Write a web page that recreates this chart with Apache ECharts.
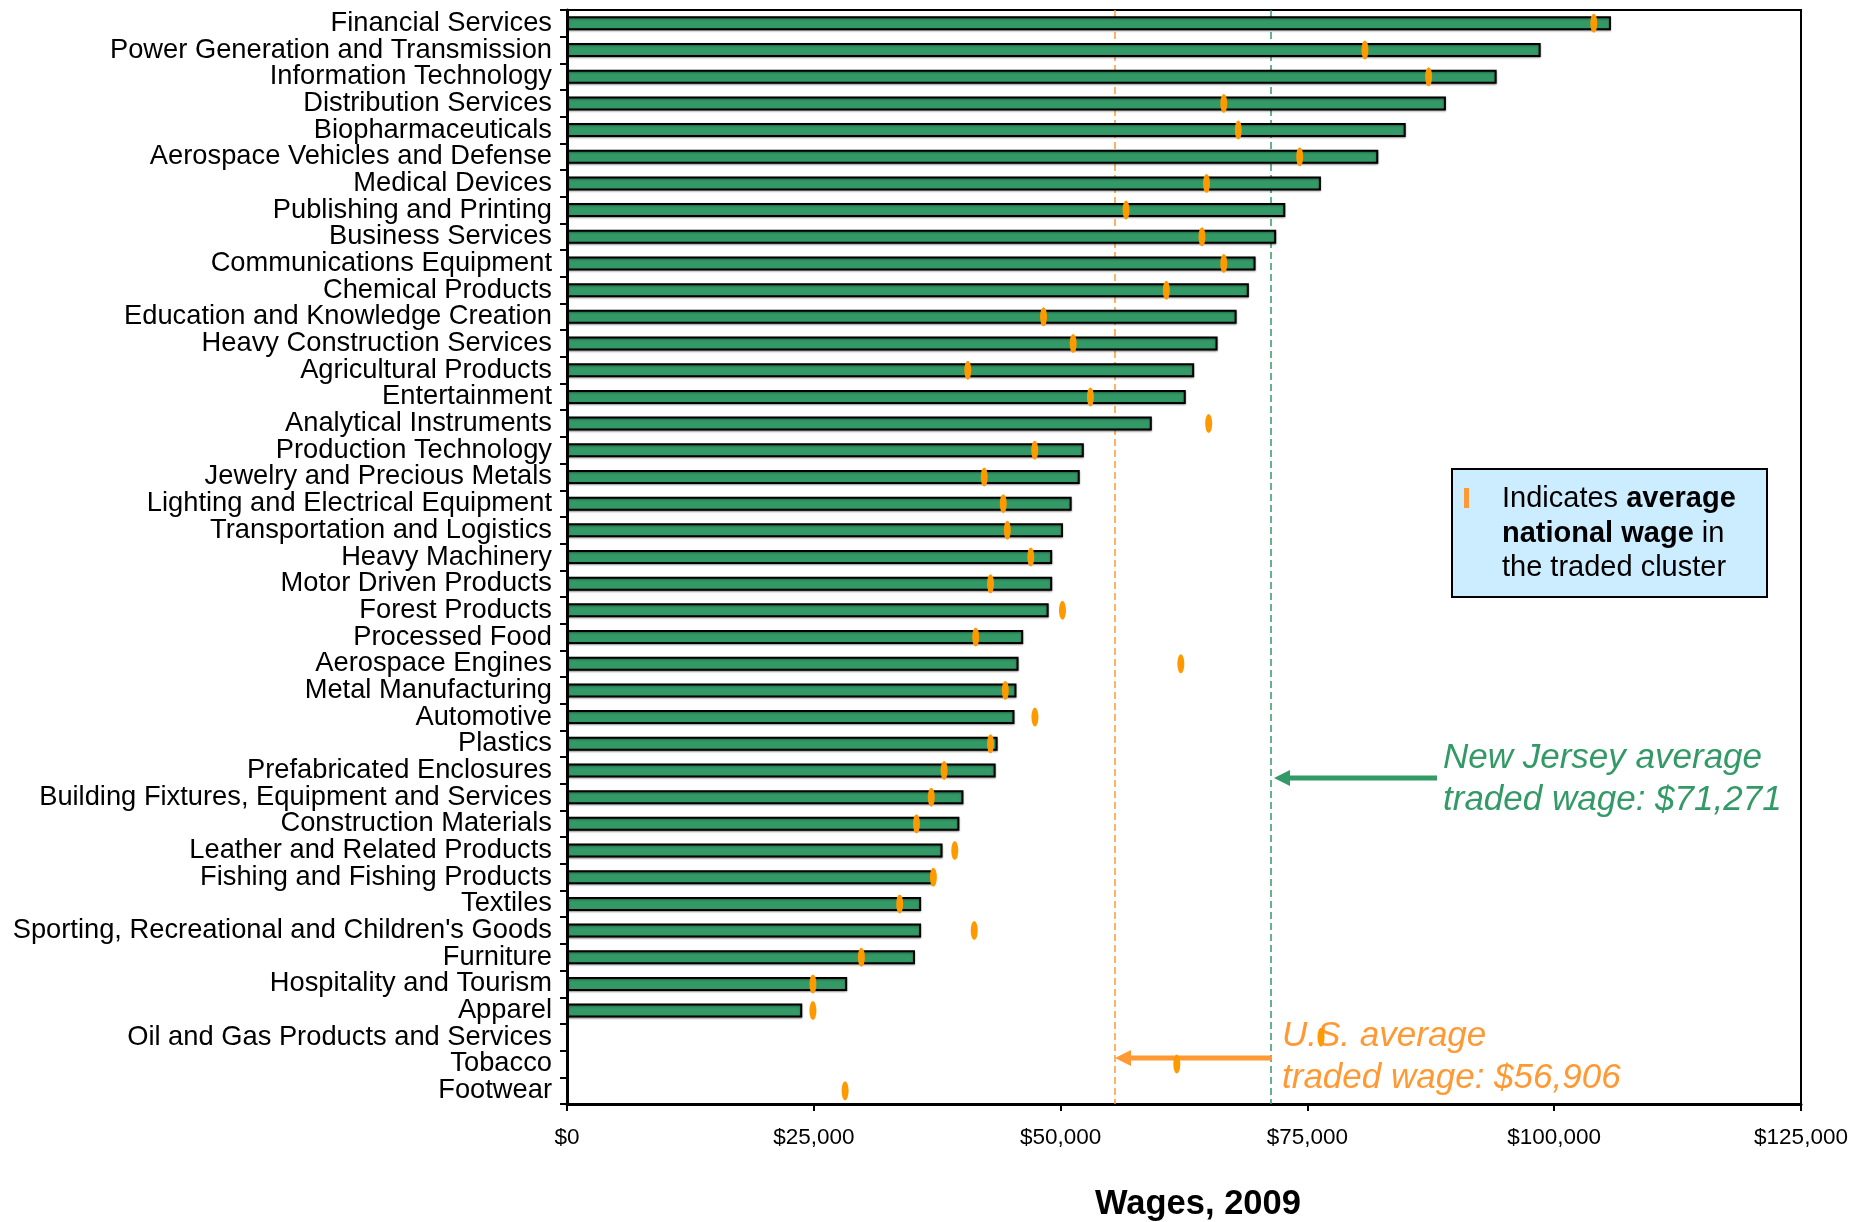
<!DOCTYPE html>
<html>
<head>
<meta charset="utf-8">
<script src="https://cdn.jsdelivr.net/npm/echarts@6/dist/echarts.min.js"></script>
<style>
html,body{margin:0;padding:0;background:#fff;}
#chart{width:1875px;height:1222px;}
</style>
</head>
<body>
<div id="chart"></div>
<script>
const categories = [
  "Financial Services",
  "Power Generation and Transmission",
  "Information Technology",
  "Distribution Services",
  "Biopharmaceuticals",
  "Aerospace Vehicles and Defense",
  "Medical Devices",
  "Publishing and Printing",
  "Business Services",
  "Communications Equipment",
  "Chemical Products",
  "Education and Knowledge Creation",
  "Heavy Construction Services",
  "Agricultural Products",
  "Entertainment",
  "Analytical Instruments",
  "Production Technology",
  "Jewelry and Precious Metals",
  "Lighting and Electrical Equipment",
  "Transportation and Logistics",
  "Heavy Machinery",
  "Motor Driven Products",
  "Forest Products",
  "Processed Food",
  "Aerospace Engines",
  "Metal Manufacturing",
  "Automotive",
  "Plastics",
  "Prefabricated Enclosures",
  "Building Fixtures, Equipment and Services",
  "Construction Materials",
  "Leather and Related Products",
  "Fishing and Fishing Products",
  "Textiles",
  "Sporting, Recreational and Children's Goods",
  "Furniture",
  "Hospitality and Tourism",
  "Apparel",
  "Oil and Gas Products and Services",
  "Tobacco",
  "Footwear"
];

// New Jersey average wage per traded cluster (bars)
const njWages = [
  105750, 98630, 94170, 89030, 84960, 82180, 76370, 72760, 71840, 69750,
  69070, 67830, 65900, 63530, 62680, 59240, 52350, 51940, 51120, 50240,
  49150, 49150, 48790, 46210, 45740, 45530, 45330, 43620, 43420, 40160,
  39750, 38040, 37060, 35870, 35870, 35250, 28380, 23830, null, null, null
];

// Average national wage per traded cluster (orange markers)
const usWages = [
  104010, 80830, 87280, 66530, 68000, 74220, 64780, 56630, 64320, 66530,
  60710, 48270, 51270, 40600, 53020, 65000, 47380, 42260, 44190, 44600,
  46980, 42900, 50190, 41400, 62180, 44400, 47400, 42900, 38200, 36900,
  35400, 39280, 37110, 33700, 41250, 29820, 24910, 24910, 76380, 61770, 28170
];

// Reference lines (positions as drawn)
const usAvgLine = 55500;
const njAvgLine = 71271;

const xMin = 0, xMax = 125000, xInterval = 25000;

const GREEN = '#339966';
const ORANGE = '#FF9933';
const MARK = '#FF9900';
const FONT = 'Liberation Sans, Arial, sans-serif';

const chart = echarts.init(document.getElementById('chart'), null, {renderer: 'canvas'});

const option = {
  animation: false,
  backgroundColor: '#fff',
  grid: {
    left: 567, right: 74, top: 10, bottom: 118,
    show: true, borderColor: '#000', borderWidth: 2, backgroundColor: 'transparent'
  },
  xAxis: {
    type: 'value',
    min: xMin, max: xMax, interval: xInterval,
    axisLine: {show: true, lineStyle: {color: '#000', width: 3}},
    axisTick: {show: true, length: 7, lineStyle: {color: '#000', width: 2}},
    splitLine: {show: false},
    axisLabel: {
      color: '#000', fontSize: 22.5, fontFamily: FONT, margin: 22,
      formatter: v => '$' + v.toLocaleString('en-US')
    }
  },
  yAxis: {
    type: 'category',
    data: categories,
    inverse: true,
    axisLine: {show: true, lineStyle: {color: '#000', width: 3}},
    axisTick: {show: true, length: 7, lineStyle: {color: '#000', width: 2}},
    splitLine: {show: false},
    axisLabel: {color: '#000', fontSize: 27.3, fontFamily: FONT, margin: 15, interval: 0}
  },
  series: [
    {
      type: 'bar',
      z: 2,
      data: njWages,
      barWidth: 14,
      itemStyle: {
        color: GREEN, borderColor: '#000', borderWidth: 2,
        shadowColor: 'rgba(0,0,0,0.35)', shadowOffsetX: 0, shadowOffsetY: 1, shadowBlur: 2
      },
      markLine: {
        silent: true, z: 1, symbol: 'none',
        label: {show: false},
        data: [
          {xAxis: usAvgLine, lineStyle: {color: ORANGE, width: 1.5, type: [7, 4]}},
          {xAxis: njAvgLine, lineStyle: {color: GREEN, width: 1.5, type: [7, 4]}}
        ]
      }
    },
    {
      type: 'scatter',
      z: 5,
      symbol: 'path://M50,0 A50,50 0 1,1 50,100 A50,50 0 1,1 50,0 Z',
      symbolSize: [7, 19],
      itemStyle: {color: MARK, opacity: 1},
      data: usWages.map((v, i) => v == null ? null : [v, categories[i]]).filter(d => d)
    }
  ],
  graphic: [
    // legend box
    {type: 'rect', z: 10, shape: {x: 1452, y: 469, width: 315, height: 128},
     style: {fill: '#CCECFF', stroke: '#000', lineWidth: 2}},
    {type: 'rect', z: 11, shape: {x: 1464, y: 488, width: 5, height: 20},
     style: {fill: ORANGE}},
    {type: 'text', z: 11, x: 1502, y: 482,
     style: {
       text: 'Indicates {b|average}\n{b|national wage} in\nthe traded cluster',
       fill: '#000', font: '29px Liberation Sans, Arial, sans-serif',
       lineHeight: 34.5, verticalAlign: 'top', align: 'left',
       rich: {b: {fontWeight: 'bold', fontSize: 29, fontFamily: FONT, lineHeight: 34.5, fill: '#000'}}
     }},
    // NJ arrow and text
    {type: 'line', z: 3, shape: {x1: 1437, y1: 778, x2: 1286, y2: 778},
     style: {stroke: GREEN, lineWidth: 5}},
    {type: 'polygon', z: 3, shape: {points: [[1274, 778], [1290, 770], [1290, 786]]},
     style: {fill: GREEN}},
    {type: 'text', z: 3, x: 1443, y: 758.5,
     style: {text: 'New Jersey average', fill: GREEN, font: 'italic 35px Liberation Sans, Arial, sans-serif', verticalAlign: 'middle', align: 'left'}},
    {type: 'text', z: 3, x: 1443, y: 800,
     style: {text: 'traded wage: $71,271', fill: GREEN, font: 'italic 35px Liberation Sans, Arial, sans-serif', verticalAlign: 'middle', align: 'left'}},
    // US arrow and text
    {type: 'line', z: 3, shape: {x1: 1272, y1: 1058, x2: 1127, y2: 1058},
     style: {stroke: ORANGE, lineWidth: 5}},
    {type: 'polygon', z: 3, shape: {points: [[1115, 1058], [1131, 1050], [1131, 1066]]},
     style: {fill: ORANGE}},
    {type: 'text', z: 3, x: 1282, y: 1036,
     style: {text: 'U.S. average', fill: ORANGE, font: 'italic 35px Liberation Sans, Arial, sans-serif', verticalAlign: 'middle', align: 'left'}},
    {type: 'text', z: 3, x: 1282, y: 1078,
     style: {text: 'traded wage: $56,906', fill: ORANGE, font: 'italic 35px Liberation Sans, Arial, sans-serif', verticalAlign: 'middle', align: 'left'}},
    // axis title
    {type: 'text', z: 3, x: 1198, y: 1204,
     style: {text: 'Wages, 2009', fill: '#000', font: 'bold 34.5px Liberation Sans, Arial, sans-serif', verticalAlign: 'middle', align: 'center'}}
  ]
};

chart.setOption(option);
</script>
</body>
</html>
